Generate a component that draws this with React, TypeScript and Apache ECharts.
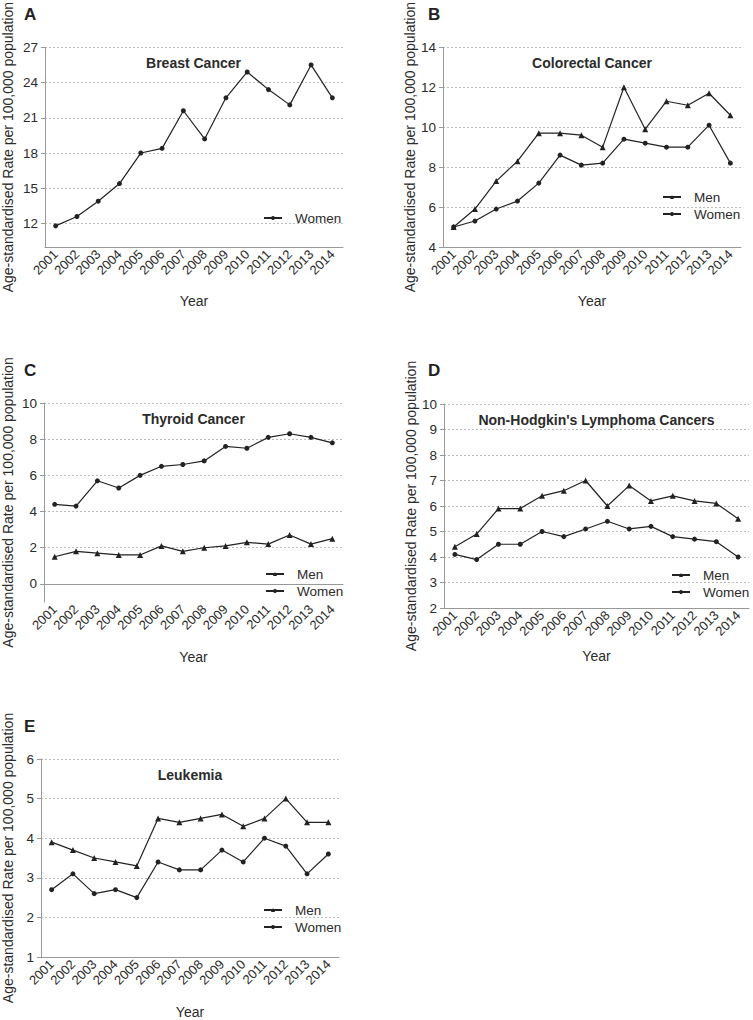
import React, { useEffect, useRef } from "react";
import * as echarts from "echarts";

const years = ["2001", "2002", "2003", "2004", "2005", "2006", "2007", "2008", "2009", "2010", "2011", "2012", "2013", "2014"];

const breastWomen = [11.8, 12.6, 13.9, 15.4, 18.0, 18.4, 21.6, 19.2, 22.7, 24.9, 23.4, 22.1, 25.5, 22.7];
const colorectalMen = [5.0, 5.9, 7.3, 8.3, 9.7, 9.7, 9.6, 9.0, 12.0, 9.9, 11.3, 11.1, 11.7, 10.6];
const colorectalWomen = [5.0, 5.3, 5.9, 6.3, 7.2, 8.6, 8.1, 8.2, 9.4, 9.2, 9.0, 9.0, 10.1, 8.2];
const thyroidMen = [1.5, 1.8, 1.7, 1.6, 1.6, 2.1, 1.8, 2.0, 2.1, 2.3, 2.2, 2.7, 2.2, 2.5];
const thyroidWomen = [4.4, 4.3, 5.7, 5.3, 6.0, 6.5, 6.6, 6.8, 7.6, 7.5, 8.1, 8.3, 8.1, 7.8];
const nhlMen = [4.4, 4.9, 5.9, 5.9, 6.4, 6.6, 7.0, 6.0, 6.8, 6.2, 6.4, 6.2, 6.1, 5.5];
const nhlWomen = [4.1, 3.9, 4.5, 4.5, 5.0, 4.8, 5.1, 5.4, 5.1, 5.2, 4.8, 4.7, 4.6, 4.0];
const leukemiaMen = [3.9, 3.7, 3.5, 3.4, 3.3, 4.5, 4.4, 4.5, 4.6, 4.3, 4.5, 5.0, 4.4, 4.4];
const leukemiaWomen = [2.7, 3.1, 2.6, 2.7, 2.5, 3.4, 3.2, 3.2, 3.7, 3.4, 4.0, 3.8, 3.1, 3.6];

const ticksA = [12, 15, 18, 21, 24, 27];
const ticksB = [4, 6, 8, 10, 12, 14];
const ticksC = [0, 2, 4, 6, 8, 10];
const ticksD = [2, 3, 4, 5, 6, 7, 8, 9, 10];
const ticksE = [1, 2, 3, 4, 5, 6];

const titles = ["Breast Cancer", "Colorectal Cancer", "Thyroid Cancer", "Non-Hodgkin's Lymphoma Cancers", "Leukemia"];
const letters = ["A", "B", "C", "D", "E"];
const yName = "Age-standardised Rate per 100,000 population";
const xName = "Year";

type Panel = {
  letter: string;
  title: string;
  ticks: number[];
  min: number;
  max: number;
  men: number[] | null;
  women: number[];
  grid: { left: number; top: number; width: number; height: number };
  letterPos: [number, number];
  legendPos: [number, number];
  yGap: number;
  xGap: number;
};

const FONT = "'Liberation Sans', Arial, sans-serif";
const TEXT = "#2b2b2b";

const panels: Panel[] = [
  {
    letter: letters[0], title: titles[0], ticks: ticksA, min: 10, max: 27, men: null, women: breastWomen,
    grid: { left: 44, top: 47, width: 299, height: 200 }, letterPos: [24, 6], legendPos: [263, 211], yGap: 30, xGap: 47,
  },
  {
    letter: letters[1], title: titles[1], ticks: ticksB, min: 4, max: 14, men: colorectalMen, women: colorectalWomen,
    grid: { left: 443, top: 47, width: 298, height: 200 }, letterPos: [428, 6], legendPos: [662, 190], yGap: 25, xGap: 47,
  },
  {
    letter: letters[2], title: titles[2], ticks: ticksC, min: -1, max: 10, men: thyroidMen, women: thyroidWomen,
    grid: { left: 44, top: 403, width: 299, height: 199 }, letterPos: [24, 362], legendPos: [265, 567], yGap: 29, xGap: 48,
  },
  {
    letter: letters[3], title: titles[3], ticks: ticksD, min: 2, max: 10, men: nhlMen, women: nhlWomen,
    grid: { left: 444, top: 404, width: 305, height: 204 }, letterPos: [428, 362], legendPos: [671, 568], yGap: 26, xGap: 41,
  },
  {
    letter: letters[4], title: titles[4], ticks: ticksE, min: 1, max: 6, men: leukemiaMen, women: leukemiaWomen,
    grid: { left: 41, top: 759, width: 298, height: 199 }, letterPos: [24, 718], legendPos: [263, 903], yGap: 26, xGap: 48,
  },
];

function buildOption() {
  const grid: any[] = [];
  const xAxis: any[] = [];
  const yAxis: any[] = [];
  const series: any[] = [];
  const legend: any[] = [];
  const title: any[] = [];

  panels.forEach((p, i) => {
    grid.push({ ...p.grid, containLabel: false });
    xAxis.push({
      type: "category",
      gridIndex: i,
      data: years,
      boundaryGap: true,
      name: xName,
      nameLocation: "middle",
      nameGap: p.xGap,
      nameTextStyle: { fontFamily: FONT, fontSize: 14, color: TEXT },
      axisLine: { lineStyle: { color: "#999", width: 1 } },
      axisTick: { alignWithLabel: true, length: 5, lineStyle: { color: "#999" } },
      axisLabel: { rotate: 45, fontFamily: FONT, fontSize: 13, color: TEXT, margin: 5, interval: 0 },
      splitLine: { show: false },
    });
    yAxis.push({
      type: "value",
      gridIndex: i,
      min: p.min,
      max: p.max,
      name: yName,
      nameLocation: "middle",
      nameRotate: 90,
      nameGap: p.yGap,
      nameTextStyle: { fontFamily: FONT, fontSize: 14, color: TEXT },
      axisLine: { show: true, lineStyle: { color: "#999", width: 1 } },
      axisTick: { show: true, length: 4, customValues: p.ticks, lineStyle: { color: "#999" } },
      axisLabel: { customValues: p.ticks, fontFamily: FONT, fontSize: 13.5, color: TEXT, margin: 7 },
      splitLine: { show: true, lineStyle: { color: "#bbb", type: [2, 2], width: 1 } },
    });
    const names: string[] = [];
    if (p.men) {
      names.push("Men");
      series.push({
        type: "line",
        name: "Men",
        xAxisIndex: i,
        yAxisIndex: i,
        data: p.men,
        symbol: "triangle",
        symbolSize: 6,
        lineStyle: { color: "#222", width: 1.2 },
        itemStyle: { color: "#222" },
      });
    }
    names.push("Women");
    series.push({
      type: "line",
      name: "Women",
      xAxisIndex: i,
      yAxisIndex: i,
      data: p.women,
      symbol: "circle",
      symbolSize: 5,
      lineStyle: { color: "#222", width: 1.2 },
      itemStyle: { color: "#222" },
    });
    legend.push({
      data: names,
      orient: "vertical",
      left: p.legendPos[0],
      top: p.legendPos[1],
      padding: 0,
      itemGap: 3,
      itemWidth: 18,
      itemHeight: 5,
      selectedMode: false,
      textStyle: { fontFamily: FONT, fontSize: 13.5, color: TEXT, lineHeight: 14, padding: [0, 0, 0, 8] },
    });
    title.push({
      text: p.title,
      left: p.grid.left + p.grid.width / 2,
      top: p.grid.top + 9,
      textAlign: "center",
      padding: 0,
      textStyle: { fontFamily: FONT, fontSize: 14, fontWeight: "bold", color: TEXT },
    });
    title.push({
      text: p.letter,
      left: p.letterPos[0],
      top: p.letterPos[1],
      padding: 0,
      textStyle: { fontFamily: FONT, fontSize: 17, fontWeight: "bold", color: "#222" },
    });
  });

  return {
    animation: false,
    backgroundColor: "#ffffff",
    grid,
    xAxis,
    yAxis,
    series,
    legend,
    title,
  };
}

export default function App() {
  const ref = useRef<HTMLDivElement>(null);
  useEffect(() => {
    document.body.style.margin = "0";
    if (!ref.current) return;
    const chart = echarts.init(ref.current, undefined, { renderer: "svg" });
    chart.setOption(buildOption());
    return () => chart.dispose();
  }, []);
  return <div ref={ref} style={{ width: 753, height: 1020, background: "#fff" }} />;
}
